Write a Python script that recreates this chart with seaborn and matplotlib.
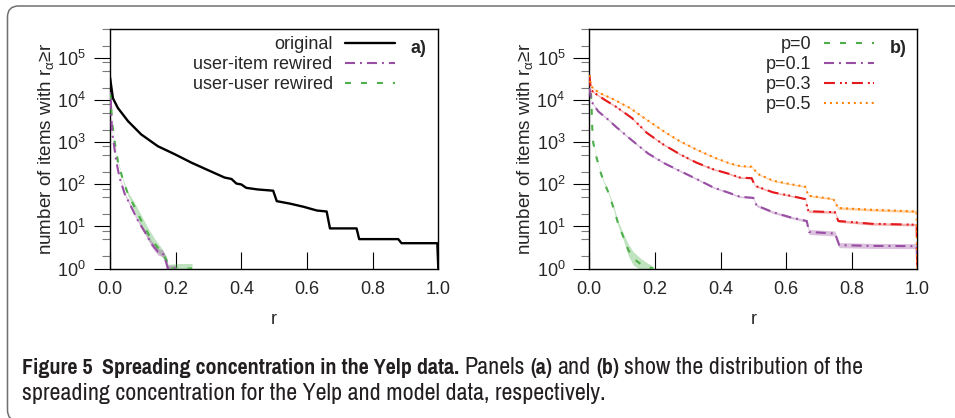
import numpy as np
import pandas as pd
import matplotlib
matplotlib.use("Agg")
import matplotlib.pyplot as plt
import seaborn as sns
from matplotlib import font_manager as fm
from matplotlib.ticker import LogLocator, NullFormatter, FixedLocator, FormatStrFormatter, LogFormatterSciNotation
from matplotlib.patches import FancyBboxPatch
from matplotlib.transforms import IdentityTransform

# ---------------- data ----------------
# panel a) Yelp data
r_a_original = [0.0, 0.009, 0.024, 0.055, 0.095, 0.146, 0.197, 0.248, 0.298, 0.349, 0.37, 0.385,
                0.40, 0.415, 0.45, 0.497, 0.508, 0.548, 0.589, 0.63, 0.66, 0.67, 0.751, 0.759,
                0.878, 0.888, 0.997, 1.0]
n_a_original = [35000, 11200, 6600, 3200, 1550, 810, 525, 330, 220, 146, 135, 105,
                100, 83, 76, 71, 40, 35, 29.5, 24, 22.7, 9, 9, 5,
                5, 4, 4, 1]

r_a_useritem = [0.0, 0.002, 0.004, 0.006, 0.012, 0.019, 0.029, 0.045, 0.065, 0.085, 0.106,
                0.126, 0.146, 0.161, 0.169, 0.176, 0.20]
n_a_useritem = [36000, 13500, 4600, 1860, 890, 360, 146, 59, 29, 13.8, 7.4,
                3.9, 2.5, 2.3, 1.6, 1.0, 1.0]
s_a_useritem = [0.02, 0.02, 0.02, 0.02, 0.02, 0.02, 0.02, 0.03, 0.04, 0.04, 0.05,
                0.07, 0.08, 0.08, 0.08, 0.08, 0.08]

r_a_useruser = [0.0, 0.002, 0.006, 0.014, 0.024, 0.040, 0.055, 0.075, 0.095, 0.116, 0.136,
                0.156, 0.172, 0.177, 0.212, 0.25]
n_a_useruser = [36000, 13500, 3200, 1070, 360, 123, 59, 29, 13.8, 6.8, 3.9,
                2.5, 1.6, 1.0, 1.0, 1.0]
s_a_useruser = [0.02, 0.02, 0.02, 0.02, 0.02, 0.03, 0.05, 0.10, 0.13, 0.13, 0.12,
                0.10, 0.09, 0.10, 0.12, 0.12]

# panel b) model data
r_b_p0 = [0.0, 0.005, 0.007, 0.009, 0.012, 0.022, 0.033, 0.043, 0.058, 0.073, 0.088,
          0.104, 0.119, 0.134, 0.154, 0.175, 0.195]
n_b_p0 = [36000, 16200, 6600, 2200, 980, 440, 210, 123, 65, 29, 11.7,
          5.6, 2.75, 1.74, 1.32, 1.1, 1.0]
s_b_p0 = [0.02, 0.02, 0.02, 0.02, 0.02, 0.02, 0.02, 0.03, 0.03, 0.05, 0.06,
          0.08, 0.14, 0.16, 0.14, 0.10, 0.05]

r_b_p01 = [0.0, 0.007, 0.027, 0.058, 0.08, 0.13, 0.18, 0.23, 0.276, 0.327, 0.378, 0.429,
           0.459, 0.50, 0.51, 0.56, 0.612, 0.663, 0.67, 0.749, 0.762, 0.86, 0.998, 1.0]
n_b_p01 = [20000, 9300, 5500, 3470, 2400, 1120, 540, 316, 210, 135, 85, 62,
           51, 48, 31.6, 21.9, 16.6, 13.5, 7.4, 6.8, 3.6, 3.45, 3.4, 1.0]
s_b_p01 = [0.02, 0.02, 0.02, 0.02, 0.02, 0.02, 0.02, 0.02, 0.02, 0.02, 0.02, 0.02,
           0.02, 0.02, 0.03, 0.03, 0.03, 0.03, 0.06, 0.06, 0.06, 0.06, 0.06, 0.06]

r_b_p03 = [0.0, 0.005, 0.017, 0.048, 0.08, 0.13, 0.175, 0.226, 0.276, 0.327, 0.378, 0.429,
           0.459, 0.495, 0.505, 0.56, 0.612, 0.658, 0.668, 0.749, 0.759, 0.86, 0.998, 1.0]
n_b_p03 = [40000, 17800, 14800, 10200, 7200, 3800, 1700, 890, 525, 330, 230, 176,
           146, 141, 93, 65, 54, 45, 23, 21.9, 13.5, 11.6, 11, 1.0]
s_b_p03 = [0.02, 0.02, 0.02, 0.02, 0.02, 0.02, 0.02, 0.02, 0.02, 0.02, 0.02, 0.02,
           0.02, 0.02, 0.02, 0.02, 0.02, 0.02, 0.03, 0.03, 0.03, 0.03, 0.03, 0.03]

r_b_p05 = [0.0, 0.005, 0.017, 0.033, 0.068, 0.124, 0.175, 0.226, 0.276, 0.327, 0.378, 0.429,
           0.459, 0.495, 0.515, 0.56, 0.612, 0.658, 0.668, 0.744, 0.759, 0.86, 0.998, 1.0]
n_b_p05 = [40000, 22000, 17800, 14800, 11200, 6600, 3470, 1860, 1070, 676, 447, 316,
           275, 263, 176, 123, 102, 89, 54, 45, 27.5, 25, 22.7, 1.0]
s_b_p05 = [0.015, 0.015, 0.015, 0.015, 0.015, 0.015, 0.015, 0.015, 0.015, 0.015, 0.015, 0.015,
           0.015, 0.015, 0.015, 0.015, 0.015, 0.02, 0.02, 0.02, 0.03, 0.03, 0.03, 0.03]

x_ticks = [0.0, 0.2, 0.4, 0.6, 0.8, 1.0]
y_major = [1e0, 1e1, 1e2, 1e3, 1e4, 1e5]
legend_a = ["original", "user-item rewired", "user-user rewired"]
legend_b = ["p=0", "p=0.1", "p=0.3", "p=0.5"]
ylabel = "number of items with r$_{\\alpha}$≥r"
xlabel = "r"

# ---------------- style ----------------
sns.set_style("ticks")
FONT = ["Liberation Sans", "DejaVu Sans"]
plt.rcParams["font.family"] = FONT
plt.rcParams["mathtext.fontset"] = "custom"
plt.rcParams["mathtext.rm"] = "Liberation Sans"
plt.rcParams["mathtext.it"] = "Liberation Sans"
plt.rcParams["mathtext.bf"] = "Liberation Sans:bold"
plt.rcParams["lines.scale_dashes"] = False
plt.rcParams["axes.edgecolor"] = "black"
plt.rcParams["axes.linewidth"] = 1.0

GREEN, PURPLE, RED, ORANGE = "#4daf4a", "#984ea3", "#e41a1c", "#ff7f00"
LS_GREEN = (0, (4.3, 7.2))
LS_PURPLE = (0, (7.2, 3.6, 1.4, 3.6))
LS_RED = (0, (7.9, 3.6, 1.4, 2.2, 1.4, 3.6))
LS_ORANGE = (0, (1.4, 2.9))

W, H = 955, 418
fig = plt.figure(figsize=(W / 100, H / 100), dpi=100)
fig.patch.set_facecolor("white")

def px_axes(left, right, top, bottom):
    return fig.add_axes([left / W, 1 - bottom / H, (right - left) / W, (bottom - top) / H])

ax_a = px_axes(110, 438.3, 29, 268.5)
ax_b = px_axes(589.3, 917.3, 29, 268.5)


def draw_series(ax, r, n, s, color, ls, lw, label):
    df = pd.DataFrame({"r": r, "n": n})
    if s is not None:
        n_arr = np.asarray(n, float)
        s_arr = np.asarray(s, float)
        ax.fill_between(r, n_arr / 10 ** s_arr, n_arr * 10 ** s_arr, color=color,
                        alpha=0.35, lw=0, zorder=2)
    sns.lineplot(data=df, x="r", y="n", ax=ax, color=color, linestyle=ls, lw=lw,
                 estimator=None, sort=False, label=label, zorder=3, legend=False)


# panel a
draw_series(ax_a, r_a_useruser, n_a_useruser, s_a_useruser, GREEN, LS_GREEN, 1.5, legend_a[2])
draw_series(ax_a, r_a_useritem, n_a_useritem, s_a_useritem, PURPLE, LS_PURPLE, 1.5, legend_a[1])
draw_series(ax_a, r_a_original, n_a_original, None, "black", "-", 1.7, legend_a[0])

# panel b
draw_series(ax_b, r_b_p0, n_b_p0, s_b_p0, GREEN, LS_GREEN, 1.5, legend_b[0])
draw_series(ax_b, r_b_p01, n_b_p01, s_b_p01, PURPLE, LS_PURPLE, 1.5, legend_b[1])
draw_series(ax_b, r_b_p03, n_b_p03, s_b_p03, RED, LS_RED, 1.5, legend_b[2])
draw_series(ax_b, r_b_p05, n_b_p05, s_b_p05, ORANGE, LS_ORANGE, 1.5, legend_b[3])

for ax, labels, plabel, lx in ((ax_a, legend_a, "a)", 0.914), (ax_b, legend_b, "b)", 0.917)):
    ax.set_yscale("log")
    ax.set_xlim(0, 1)
    ax.set_ylim(1, 5e5)
    ax.xaxis.set_major_locator(FixedLocator(x_ticks))
    ax.xaxis.set_major_formatter(FormatStrFormatter("%.1f"))
    ax.yaxis.set_major_locator(FixedLocator(y_major))
    ax.yaxis.set_major_formatter(LogFormatterSciNotation())
    ax.yaxis.set_minor_locator(LogLocator(base=10, subs=(2.0, 5.0, 8.0), numticks=20))
    ax.yaxis.set_minor_formatter(NullFormatter())
    ax.tick_params(axis="x", which="major", direction="in", length=12.2, width=0.8,
                   color="black", labelsize=13, pad=8.7, top=False)
    ax.tick_params(axis="y", which="major", direction="out", length=11.5, width=0.8,
                   color="black", labelsize=13, pad=5.8, right=False)
    ax.tick_params(axis="y", which="minor", direction="out", length=5.8, width=0.8,
                   color="#7a7a7a", right=False)
    for sp in ax.spines.values():
        sp.set_visible(True)
        sp.set_color("black")
        sp.set_linewidth(1.0)
    ax.set_xlabel(xlabel, fontsize=13, labelpad=9.3)
    ax.set_ylabel(ylabel, fontsize=13.6, labelpad=1.0)
    ax.set_facecolor("white")
    ax.grid(False)
    # legend
    handles, labs = ax.get_legend_handles_labels()
    order = [labs.index(l) for l in labels]
    leg = ax.legend([handles[i] for i in order], [labs[i] for i in order],
                    loc="upper right", bbox_to_anchor=(0.868, 0.97), borderaxespad=0,
                    borderpad=0, frameon=False, markerfirst=False, fontsize=13,
                    handlelength=2.75, handletextpad=0.7, labelspacing=0.17)
    ax.text(lx, 0.901, plabel, transform=ax.transAxes, fontsize=13, fontweight="bold",
            ha="left", va="baseline")

# ---------------- border box ----------------
box = FancyBboxPatch((7.5, -3), 975, 418 - 6 + 3, boxstyle="round,pad=0,rounding_size=11",
                     transform=IdentityTransform(), fill=False, ec="#707070", lw=1.1)
fig.add_artist(box)

# ---------------- caption ----------------
def find_condensed():
    for key in ("Narrow", "Condensed", "SemiCondensed"):
        cands = [f for f in fm.fontManager.ttflist
                 if key.lower() in (f.fname + " " + f.name).lower()
                 and f.style == "normal" and "mono" not in f.name.lower()]
        r = [f for f in cands if f.weight in (400, "normal", "regular", "book")]
        b = [f for f in cands if f.weight in (700, "bold")]
        if r and b:
            rf = sorted(r, key=lambda f: len(f.fname))[0]
            same = [f for f in b if f.name == rf.name] or b
            bf = sorted(same, key=lambda f: len(f.fname))[0]
            return fm.FontProperties(fname=rf.fname), fm.FontProperties(fname=bf.fname)
    return (fm.FontProperties(family="Open Sans"),
            fm.FontProperties(family="Open Sans", weight="bold"))

CAP_REG, CAP_BOLD = find_condensed()

line1 = [("Figure 5", True, 2), ("Spreading concentration in the Yelp data.", True, 1),
         ("Panels", False, 1), ("(a)", True, 1), ("and", False, 1), ("(b)", True, 1),
         ("show the distribution of the", False, 0)]
line2 = [("spreading concentration for the Yelp and model data, respectively.", False, 0)]

renderer = fig.canvas.get_renderer()


def fp(size, bold):
    p = (CAP_BOLD if bold else CAP_REG).copy()
    p.set_size(size)
    return p


def text_width(s, size, bold):
    t = fig.text(0, 0, s, transform=IdentityTransform(), fontproperties=fp(size, bold))
    w = t.get_window_extent(renderer=renderer).width
    t.remove()
    return w


def space_width(size, bold):
    return text_width("x x", size, bold) - text_width("xx", size, bold)


def draw_line(runs, x0, y_base, size):
    x = x0
    for s, bold, nsp in runs:
        t = fig.text(x, H - y_base, s, transform=IdentityTransform(), fontproperties=fp(size, bold),
                     ha="left", va="baseline", color="#231f20")
        x += t.get_window_extent(renderer=renderer).width + nsp * space_width(size, bold)
    return x


def line_width(runs, size):
    return sum(text_width(s, size, b) + n * space_width(size, b) for s, b, n in runs)

base = 12.0
w_total = line_width(line1, base) + line_width(line2, base)
cap_size = base * ((883 - 22) + (583 - 22)) / w_total
draw_line(line1, 22, 374, cap_size)
draw_line(line2, 22, 400, cap_size)

fig.savefig("out.png", dpi=100, facecolor="white")
